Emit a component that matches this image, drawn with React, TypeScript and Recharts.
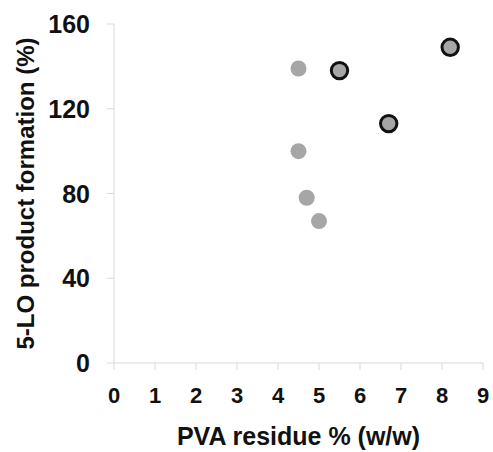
import { ScatterChart, Scatter, XAxis, YAxis } from 'recharts';

const xTicks = [0, 1, 2, 3, 4, 5, 6, 7, 8, 9];
const yTicks = [0, 40, 80, 120, 160];

// light grey dots
const plainX = [4.5, 4.5, 4.7, 5.0];
const plainY = [139, 100, 78, 67];

// grey dots with black ring
const ringX = [5.5, 6.7, 8.2];
const ringY = [138, 113, 149];

const plainData = plainX.map((x, i) => ({ x, y: plainY[i] }));
const ringData = ringX.map((x, i) => ({ x, y: ringY[i] }));

const font = '"Liberation Sans", Arial, sans-serif';
const axisColor = '#d9d9d9';

const PlainDot = (props: any) => (
  <circle cx={props.cx} cy={props.cy} r={8} fill="#a6a6a6" />
);

const RingDot = (props: any) => (
  <circle cx={props.cx} cy={props.cy} r={8.2} fill="#a6a6a6" stroke="#111" strokeWidth={3} />
);

const XTick = (props: any) => (
  <text
    x={props.x}
    y={props.y + 18}
    textAnchor="middle"
    fill="#111"
    fontSize={22}
    fontWeight={700}
    fontFamily={font}
  >
    {props.payload.value}
  </text>
);

const YTick = (props: any) => (
  <text
    x={props.x}
    y={props.y + 9}
    textAnchor="end"
    fill="#111"
    fontSize={25}
    fontWeight={700}
    fontFamily={font}
  >
    {props.payload.value}
  </text>
);

export default function App() {
  return (
    <div style={{ position: 'absolute', left: 0, top: 0, background: '#fff' }}>
      <ScatterChart width={493} height={452} margin={{ top: 24, right: 10, bottom: 0, left: 0 }}>
        <XAxis
          dataKey="x"
          type="number"
          domain={[0, 9]}
          ticks={xTicks}
          interval={0}
          height={89}
          tickSize={7}
          tickMargin={15}
          axisLine={{ stroke: axisColor }}
          tickLine={{ stroke: axisColor }}
          tick={XTick}
          label={{
            value: 'PVA residue % (w/w)',
            position: 'insideBottom',
            offset: 7,
            fill: '#111',
            fontSize: 25,
            fontWeight: 700,
            fontFamily: font,
          }}
        />
        <YAxis
          dataKey="y"
          type="number"
          domain={[0, 160]}
          ticks={yTicks}
          interval={0}
          width={114}
          tickSize={7}
          tickMargin={17}
          axisLine={{ stroke: axisColor }}
          tickLine={{ stroke: axisColor }}
          tick={YTick}
          label={{
            value: '5-LO product formation (%)',
            angle: -90,
            position: 'insideLeft',
            offset: 25,
            fill: '#111',
            fontSize: 24,
            fontWeight: 700,
            fontFamily: font,
            style: { textAnchor: 'middle' },
          }}
        />
        <Scatter data={plainData} shape={PlainDot} isAnimationActive={false} />
        <Scatter data={ringData} shape={RingDot} isAnimationActive={false} />
      </ScatterChart>
    </div>
  );
}
